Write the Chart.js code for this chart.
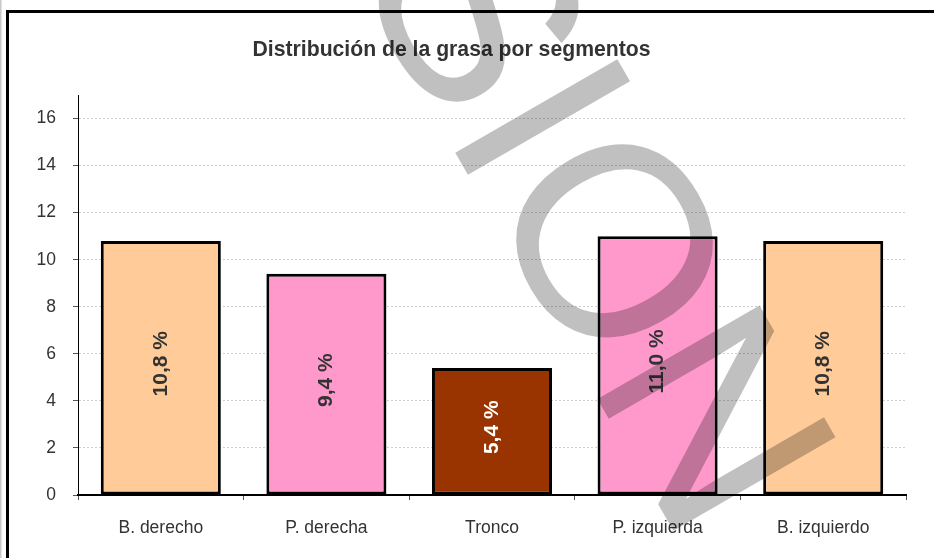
<!DOCTYPE html>
<html>
<head>
<meta charset="utf-8">
<script src="https://cdn.jsdelivr.net/npm/chart.js@4.4.0/dist/chart.umd.min.js"></script>
<style>
  body { margin: 0; background: #fff; }
  canvas { display: block; }
</style>
</head>
<body>
<canvas id="grasaChart" width="934" height="558"></canvas>
<script>
// datos
const categories = ['B. derecho', 'P. derecha', 'Tronco', 'P. izquierda', 'B. izquierdo'];
const grasa = [10.8, 9.4, 5.4, 11.0, 10.8];
const barColors = ['#FFCC99', '#FF99CC', '#993300', '#FF99CC', '#FFCC99'];
const labelColors = ['#333333', '#333333', '#ffffff', '#333333', '#333333'];
const yTicks = [0, 2, 4, 6, 8, 10, 12, 14, 16];

const titleText = 'Distribución de la grasa por segmentos';
const watermarkText = 'VERSION';
const fontFamily = '"Liberation Sans", Arial, sans-serif';

// marco, título, etiquetas de barra y marca de agua
const decoPlugin = {
    id: 'deco',
    beforeDraw(chart) {
        const ctx = chart.ctx;
        ctx.save();
        ctx.fillStyle = '#fff';
        ctx.fillRect(0, 0, chart.width, chart.height);
        ctx.fillStyle = '#c8c8c8';
        ctx.fillRect(0, 0, 1.5, chart.height);
        ctx.fillStyle = '#000';
        ctx.fillRect(6, 10, chart.width - 6, 3);
        ctx.fillRect(6, 10, 3, chart.height - 10);
        ctx.restore();
    },
    afterDatasetsDraw(chart) {
        const ctx = chart.ctx;
        const meta = chart.getDatasetMeta(0);
        ctx.save();
        ctx.font = 'bold 21px ' + fontFamily;
        ctx.textAlign = 'center';
        ctx.textBaseline = 'middle';
        meta.data.forEach(function (bar, i) {
            const txt = grasa[i].toFixed(1).replace('.', ',') + ' %';
            ctx.save();
            ctx.translate(bar.x, (bar.y + bar.base) / 2 - 4);
            ctx.rotate(-Math.PI / 2);
            ctx.fillStyle = labelColors[i];
            ctx.fillText(txt, 0, 0);
            ctx.restore();
        });
        ctx.restore();
    },
    afterDraw(chart) {
        const ctx = chart.ctx;
        ctx.save();
        ctx.fillStyle = '#333333';
        ctx.font = 'bold 21.2px ' + fontFamily;
        ctx.textAlign = 'center';
        ctx.textBaseline = 'alphabetic';
        ctx.fillText(titleText, 451.5, 56);
        ctx.restore();

        // marca de agua gris
        ctx.save();
        ctx.globalCompositeOperation = 'multiply';
        ctx.fillStyle = '#c0c0c0';
        ctx.font = '272px ' + fontFamily;
        ctx.textAlign = 'left';
        ctx.textBaseline = 'alphabetic';
        ctx.translate(352, -26);
        ctx.rotate(Math.PI / 3);
        const pre = ctx.measureText('VER').width;
        ctx.fillText(watermarkText, -pre, 0);
        ctx.restore();
    }
};

const ctx = document.getElementById('grasaChart');
const grasaChart = new Chart(ctx, {
    type: 'bar',
    data: {
        labels: categories,
        datasets: [{
            label: 'Grasa',
            data: grasa,
            backgroundColor: barColors,
            borderColor: '#000',
            borderWidth: 3,
            borderSkipped: false,
            categoryPercentage: 1,
            barPercentage: 0.725
        }]
    },
    options: {
        responsive: false,
        animation: false,
        layout: { padding: { top: 95, right: 28, bottom: 0, left: 0 } },
        plugins: {
            legend: { display: false },
            title: { display: false },
            tooltip: { enabled: false }
        },
        scales: {
            x: {
                grid: { display: true, drawOnChartArea: false, drawTicks: true, tickLength: 5, tickColor: '#555', offset: true },
                border: { color: '#000', width: 2 },
                ticks: { color: '#333', font: { family: fontFamily, size: 17.5 }, padding: 18, maxRotation: 0 },
                afterFit: function (s) { s.height = 63; }
            },
            y: {
                min: 0,
                max: 17,
                afterBuildTicks: function (s) { s.ticks = yTicks.map(v => ({ value: v })); },
                grid: { color: '#cfcfcf', tickColor: '#555', tickLength: 5, tickBorderDash: [] },
                border: { color: '#000', width: 1, dash: [2, 2] },
                ticks: { color: '#333', font: { family: fontFamily, size: 17.5 }, padding: 17 },
                afterFit: function (s) { s.width = 78; }
            }
        }
    },
    plugins: [decoPlugin]
});
</script>
</body>
</html>
